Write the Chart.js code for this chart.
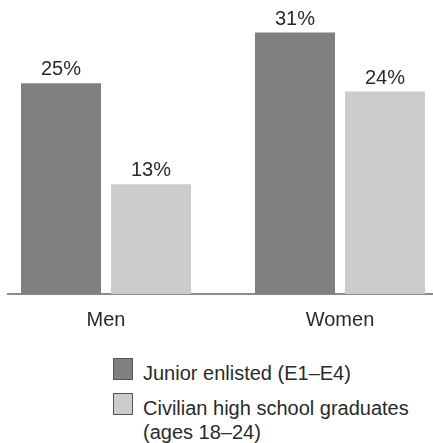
<!DOCTYPE html>
<html>
<head>
<meta charset="utf-8">
<script src="https://cdn.jsdelivr.net/npm/chart.js@4"></script>
<style>
  html, body { margin: 0; padding: 0; background: #fff; }
  #wrap { position: relative; width: 433px; height: 443px; overflow: hidden; }
  #box { position: absolute; left: 0; top: 0; width: 433px; height: 346px; }
  #legend { position: absolute; left: 113px; top: 358px; font: 20px "Liberation Sans", Arial, sans-serif; color: #2a2a2a; }
  .item { display: flex; align-items: flex-start; margin-bottom: 8px; }
  .swatch { width: 18px; height: 20px; border: 1px solid #555; flex: none; margin-right: 10px; }
  .txt { margin-top: 3px; line-height: 24px; white-space: nowrap; }
</style>
</head>
<body>
<div id="wrap">
  <div id="box"><canvas id="grafica"></canvas></div>
  <div id="legend"></div>
</div>
<script>
const categorias = ['Men', 'Women'];
const juniorEnlisted = [25, 31];
const civilianGrads = [13, 24];
const seriesLabels = [['Junior enlisted (E1\u2013E4)'], ['Civilian high school graduates', '(ages 18\u201324)']];
const seriesColors = ['#808080', '#cccccc'];

const FONT = '"Liberation Sans", Arial, sans-serif';
const TEXT = '#2a2a2a';

function puntos(valores) {
    return valores.map((v, i) => ({ x: i, y: v }));
}

// etiquetas de porcentaje encima de cada barra
const etiquetasBarras = {
    id: 'etiquetasBarras',
    afterDatasetsDraw(chart) {
        const ctx = chart.ctx;
        ctx.save();
        ctx.font = '20px ' + FONT;
        ctx.fillStyle = TEXT;
        ctx.textAlign = 'center';
        ctx.textBaseline = 'alphabetic';
        chart.data.datasets.forEach((ds, d) => {
            chart.getDatasetMeta(d).data.forEach((bar, i) => {
                ctx.fillText(ds.data[i].y + '%', bar.x, bar.y - 8);
            });
        });
        ctx.restore();
    }
};

const ctx = document.getElementById('grafica').getContext('2d');
const chart = new Chart(ctx, {
    type: 'bar',
    data: {
        datasets: [
            { label: seriesLabels[0], data: puntos(juniorEnlisted), backgroundColor: seriesColors[0] },
            { label: seriesLabels[1], data: puntos(civilianGrads), backgroundColor: seriesColors[1] }
        ]
    },
    options: {
        responsive: true,
        maintainAspectRatio: false,
        animation: false,
        categoryPercentage: 180 / 234,
        barPercentage: 80 / 90,
        layout: { padding: { left: 8, right: 0, top: 0, bottom: 0 } },
        scales: {
            x: {
                type: 'linear',
                offset: false,
                min: -98 / 234,
                max: 1 + 93 / 234,
                z: 1,
                afterBuildTicks: (axis) => { axis.ticks = categorias.map((c, i) => ({ value: i })); },
                grid: { display: false, drawTicks: false, offset: false },
                border: { display: true, color: '#8a8a8a', width: 2 },
                ticks: {
                    callback: (v) => categorias[v],
                    font: { family: FONT, size: 20 },
                    color: TEXT,
                    padding: 14,
                    maxRotation: 0,
                    autoSkip: false
                }
            },
            y: { display: false, min: 0, max: 34.86 }
        },
        plugins: { legend: { display: false }, tooltip: { enabled: false } }
    },
    plugins: [etiquetasBarras]
});

// leyenda en HTML a partir de los datasets
const leyenda = document.getElementById('legend');
chart.data.datasets.forEach((ds) => {
    const item = document.createElement('div');
    item.className = 'item';
    const sw = document.createElement('span');
    sw.className = 'swatch';
    sw.style.background = ds.backgroundColor;
    const txt = document.createElement('span');
    txt.className = 'txt';
    txt.innerHTML = ds.label.join('<br>');
    item.appendChild(sw);
    item.appendChild(txt);
    leyenda.appendChild(item);
});
</script>
</body>
</html>
